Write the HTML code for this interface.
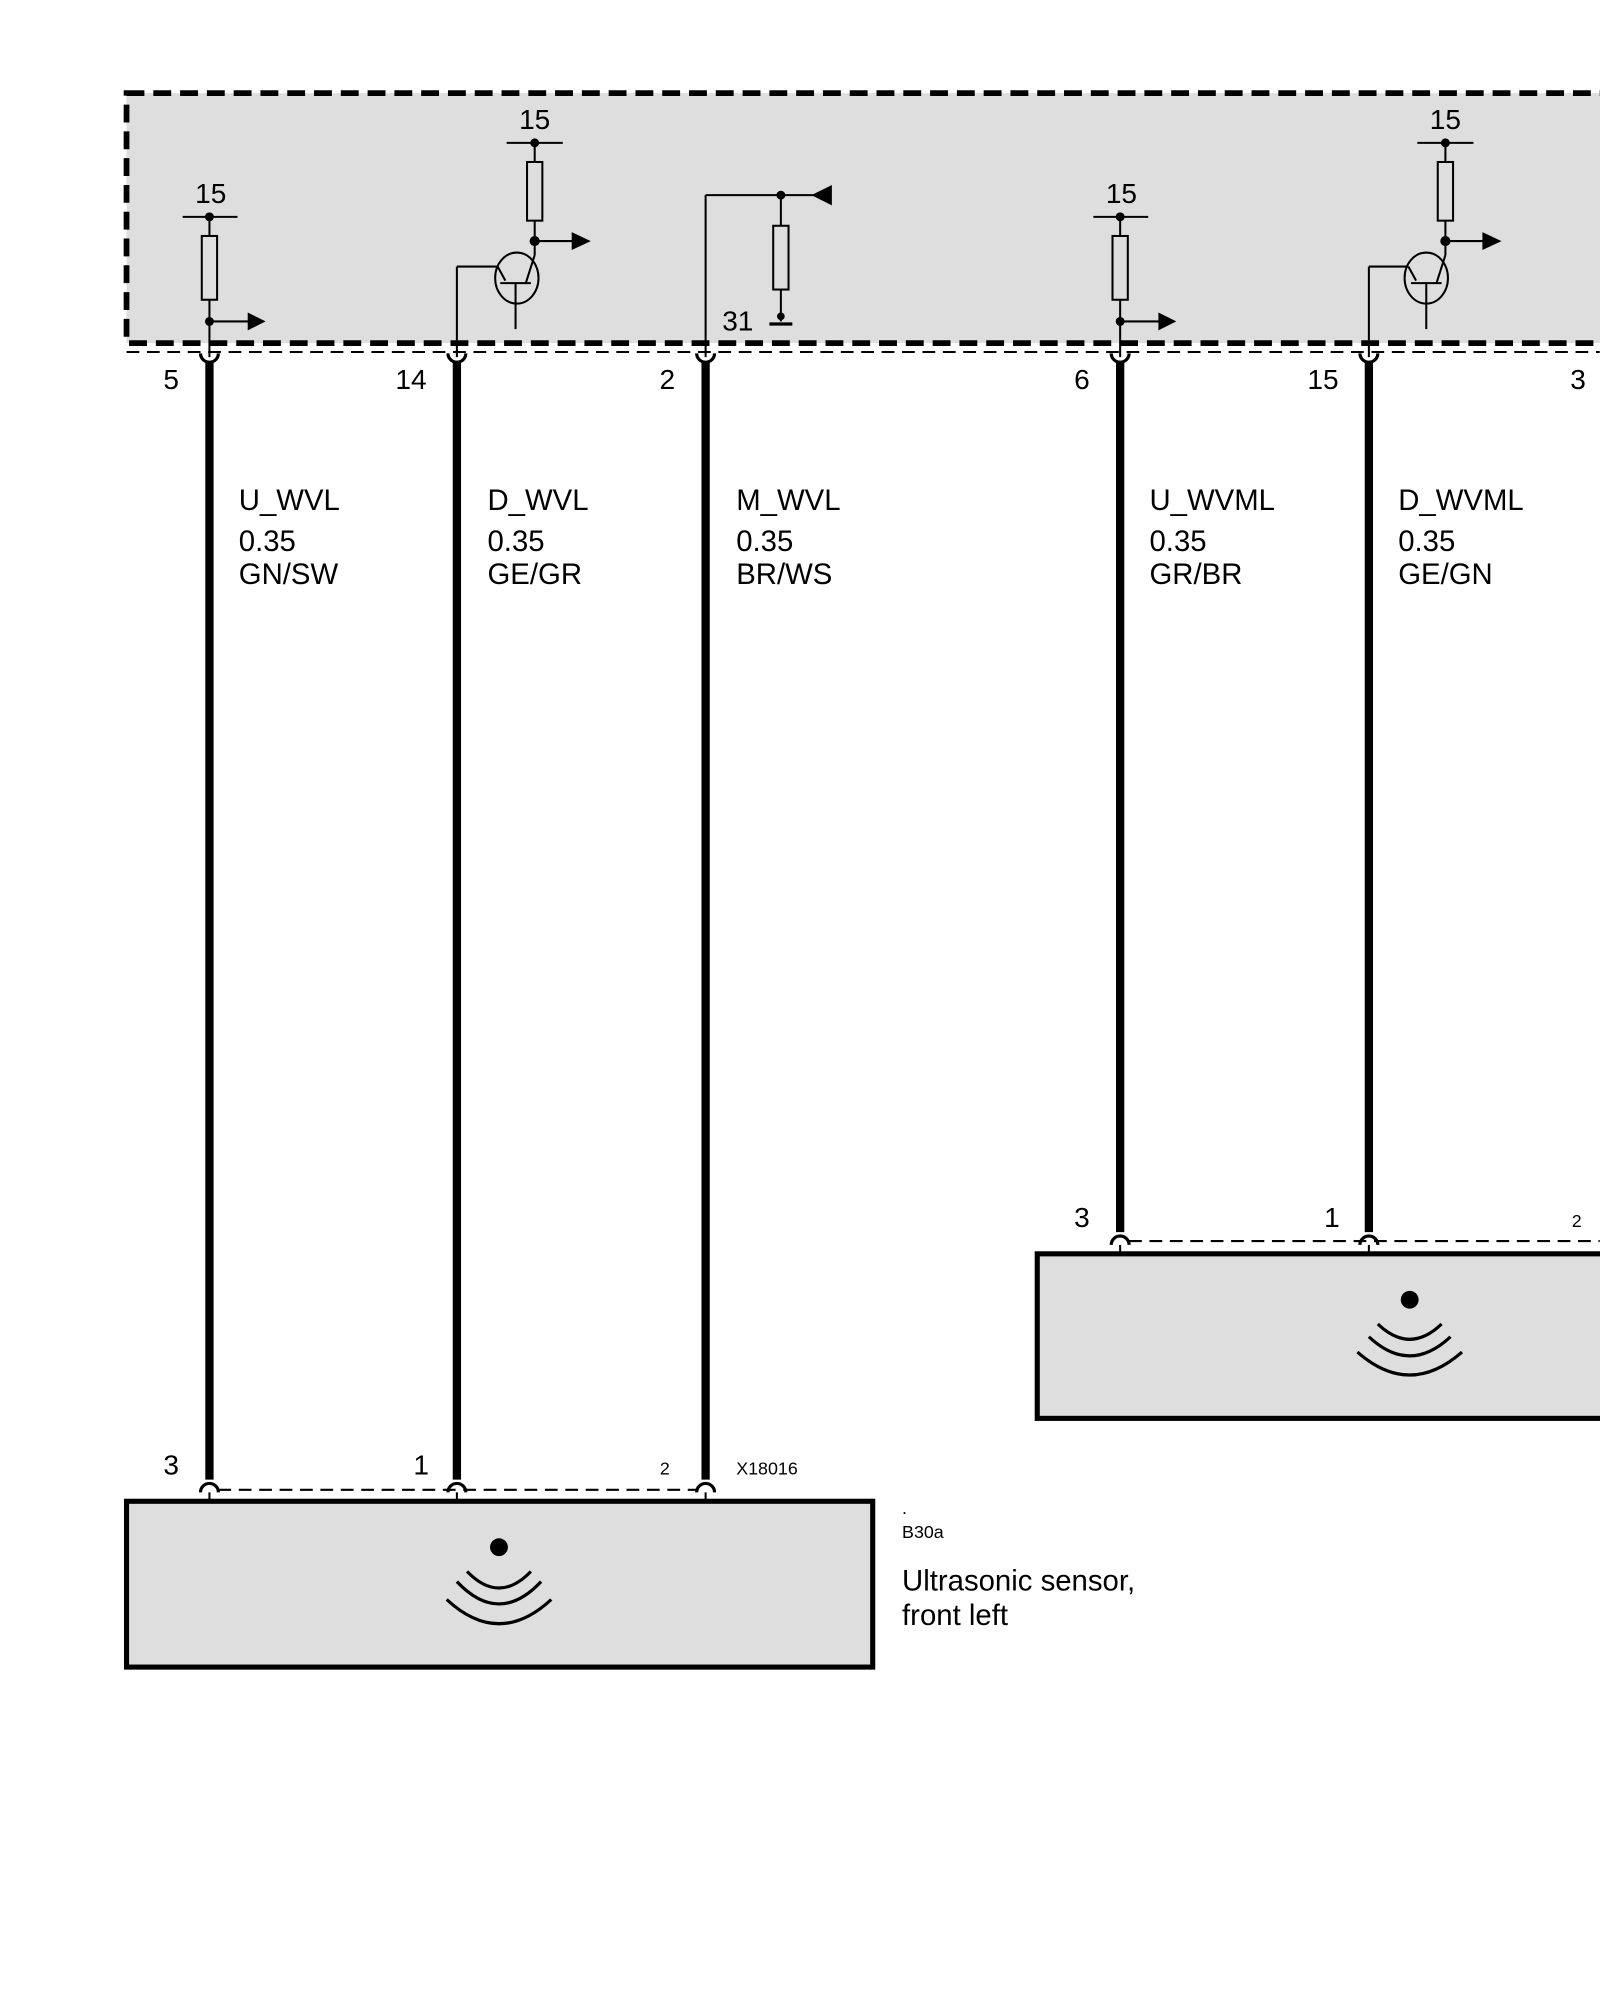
<!DOCTYPE html>
<html><head><meta charset="utf-8"><style>
html,body{margin:0;padding:0;background:#fff;width:1600px;height:2000px;overflow:hidden}
svg{display:block}
text{font-family:"Liberation Sans",Arial,sans-serif;fill:#000}
</style></head><body>
<svg width="1600" height="2000" viewBox="0 0 1254 1568" xmlns="http://www.w3.org/2000/svg">
<!-- control unit box -->
<rect x="99" y="73" width="1170" height="196" fill="#dedede" stroke="#000" stroke-width="4.5" stroke-dasharray="14,7"/>
<line x1="99" y1="276" x2="1254" y2="276" stroke="#000" stroke-width="1.6" stroke-dasharray="10,6"/>

<g stroke="#000" fill="none" stroke-width="1.6">
<!-- pin5 circuit -->
<line x1="143" y1="170" x2="186" y2="170"/>
<line x1="164" y1="170" x2="164" y2="185"/>
<rect x="158" y="185" width="12" height="50" fill="none"/>
<line x1="164" y1="235" x2="164" y2="280"/>
<line x1="164" y1="252" x2="196" y2="252"/>
<!-- pin14 transistor -->
<line x1="397" y1="112" x2="441" y2="112"/>
<line x1="419" y1="112" x2="419" y2="127"/>
<rect x="413" y="127" width="12" height="46"/>
<line x1="419" y1="173" x2="419" y2="200"/>
<line x1="419" y1="189" x2="450" y2="189"/>
<ellipse cx="405" cy="218" rx="17" ry="20"/>
<line x1="419" y1="200" x2="412" y2="222"/>
<line x1="392" y1="222" x2="416" y2="222"/>
<line x1="404" y1="222" x2="404" y2="258"/>
<line x1="358" y1="280" x2="358" y2="209"/>
<line x1="358" y1="209" x2="390" y2="209"/>
<line x1="390" y1="209" x2="396" y2="220"/>
<!-- pin2 -->
<line x1="553" y1="280" x2="553" y2="153"/>
<line x1="553" y1="153" x2="640" y2="153"/>
<line x1="612" y1="153" x2="612" y2="177"/>
<rect x="606" y="177" width="12" height="50"/>
<line x1="612" y1="227" x2="612" y2="252"/>
<line x1="603" y1="254" x2="621" y2="254" stroke-width="2.5"/>
<!-- pin6 -->
<line x1="857" y1="170" x2="900" y2="170"/>
<line x1="878" y1="170" x2="878" y2="185"/>
<rect x="872" y="185" width="12" height="50"/>
<line x1="878" y1="235" x2="878" y2="280"/>
<line x1="878" y1="252" x2="910" y2="252"/>
<!-- pin15 transistor -->
<line x1="1111" y1="112" x2="1155" y2="112"/>
<line x1="1133" y1="112" x2="1133" y2="127"/>
<rect x="1127" y="127" width="12" height="46"/>
<line x1="1133" y1="173" x2="1133" y2="200"/>
<line x1="1133" y1="189" x2="1164" y2="189"/>
<ellipse cx="1118" cy="218" rx="17" ry="20"/>
<line x1="1133" y1="200" x2="1126" y2="222"/>
<line x1="1106" y1="222" x2="1130" y2="222"/>
<line x1="1118" y1="222" x2="1118" y2="258"/>
<line x1="1073" y1="280" x2="1073" y2="209"/>
<line x1="1073" y1="209" x2="1104" y2="209"/>
<line x1="1104" y1="209" x2="1110" y2="220"/>
</g>
<g fill="#000">
<circle cx="164" cy="170" r="3.5"/><circle cx="164" cy="252" r="3.5"/>
<polygon points="194,245 208,252 194,259"/>
<circle cx="419" cy="112" r="3.5"/><circle cx="419" cy="189" r="4"/>
<polygon points="448,182 463,189 448,196"/>
<circle cx="612" cy="153" r="3.5"/><circle cx="612" cy="248" r="3"/>
<polygon points="652,145 636,153 652,161"/>
<circle cx="878" cy="170" r="3.5"/><circle cx="878" cy="252" r="3.5"/>
<polygon points="908,245 922,252 908,259"/>
<circle cx="1133" cy="112" r="3.5"/><circle cx="1133" cy="189" r="4"/>
<polygon points="1162,182 1177,189 1162,196"/>
</g>

<!-- thick wires -->
<g stroke="#000" stroke-width="6.5">
<line x1="164" y1="284" x2="164" y2="1160"/>
<line x1="358" y1="284" x2="358" y2="1160"/>
<line x1="553" y1="284" x2="553" y2="1160"/>
<line x1="878" y1="284" x2="878" y2="966"/>
<line x1="1073" y1="284" x2="1073" y2="966"/>
</g>
<!-- top sockets -->
<g stroke="#000" stroke-width="2.5" fill="none">
<path d="M157,277 a7,7 0 0 0 14,0"/><path d="M351,277 a7,7 0 0 0 14,0"/>
<path d="M546,277 a7,7 0 0 0 14,0"/><path d="M871,277 a7,7 0 0 0 14,0"/>
<path d="M1066,277 a7,7 0 0 0 14,0"/>
<!-- bottom sockets -->
<path d="M157,1170 a7,7 0 0 1 14,0"/><path d="M351,1170 a7,7 0 0 1 14,0"/>
<path d="M546,1170 a7,7 0 0 1 14,0"/>
<path d="M871,976 a7,7 0 0 1 14,0"/><path d="M1066,976 a7,7 0 0 1 14,0"/>
</g>
<g stroke="#000" stroke-width="1.6">
<line x1="164" y1="1170" x2="164" y2="1178"/><line x1="358" y1="1170" x2="358" y2="1178"/><line x1="553" y1="1170" x2="553" y2="1178"/>
<line x1="878" y1="976" x2="878" y2="984"/><line x1="1073" y1="976" x2="1073" y2="984"/>
<line x1="171" y1="1168" x2="546" y2="1168" stroke-dasharray="10,6"/>
<line x1="885" y1="973" x2="1254" y2="973" stroke-dasharray="10,6"/>
</g>

<!-- sensor boxes -->
<rect x="99" y="1177" width="585" height="130" fill="#dedede" stroke="#000" stroke-width="4"/>
<rect x="813" y="983" width="460" height="129" fill="#dedede" stroke="#000" stroke-width="4"/>
<circle cx="391" cy="1213" r="7" fill="#000"/>
<g stroke="#000" stroke-width="2.5" fill="none">
<path d="M366,1232 Q391,1258 416,1232"/>
<path d="M358,1240 Q391,1275 424,1240"/>
<path d="M350,1254 Q391,1292 432,1254"/>
</g>
<circle cx="1105" cy="1019" r="7" fill="#000"/>
<g stroke="#000" stroke-width="2.5" fill="none">
<path d="M1080,1038 Q1105,1062 1130,1038"/>
<path d="M1073,1048 Q1105,1078 1137,1048"/>
<path d="M1064,1060 Q1105,1096 1146,1060"/>
</g>

<!-- labels -->
<g font-size="22">
<text x="165" y="159" text-anchor="middle">15</text>
<text x="419" y="101" text-anchor="middle">15</text>
<text x="879" y="159" text-anchor="middle">15</text>
<text x="1133" y="101" text-anchor="middle">15</text>
<text x="566" y="259">31</text>
<text x="134" y="305" text-anchor="middle">5</text>
<text x="322" y="305" text-anchor="middle">14</text>
<text x="523" y="305" text-anchor="middle">2</text>
<text x="848" y="305" text-anchor="middle">6</text>
<text x="1037" y="305" text-anchor="middle">15</text>
<text x="1237" y="305" text-anchor="middle">3</text>
<text x="134" y="1156" text-anchor="middle">3</text>
<text x="330" y="1156" text-anchor="middle">1</text>
<text x="848" y="962" text-anchor="middle">3</text>
<text x="1044" y="962" text-anchor="middle">1</text>
</g>
<g font-size="14">
<text x="521" y="1156" text-anchor="middle">2</text>
<text x="577" y="1156">X18016</text>
<text x="1236" y="962" text-anchor="middle">2</text>
<text x="707" y="1187">.</text>
<text x="707" y="1206">B30a</text>
</g>
<g font-size="23">
<text x="187" y="400">U_WVL</text><text x="187" y="432">0.35</text><text x="187" y="458">GN/SW</text>
<text x="382" y="400">D_WVL</text><text x="382" y="432">0.35</text><text x="382" y="458">GE/GR</text>
<text x="577" y="400">M_WVL</text><text x="577" y="432">0.35</text><text x="577" y="458">BR/WS</text>
<text x="901" y="400">U_WVML</text><text x="901" y="432">0.35</text><text x="901" y="458">GR/BR</text>
<text x="1096" y="400">D_WVML</text><text x="1096" y="432">0.35</text><text x="1096" y="458">GE/GN</text>
<text x="707" y="1247">Ultrasonic sensor,</text>
<text x="707" y="1274">front left</text>
</g>
</svg>
</body></html>
